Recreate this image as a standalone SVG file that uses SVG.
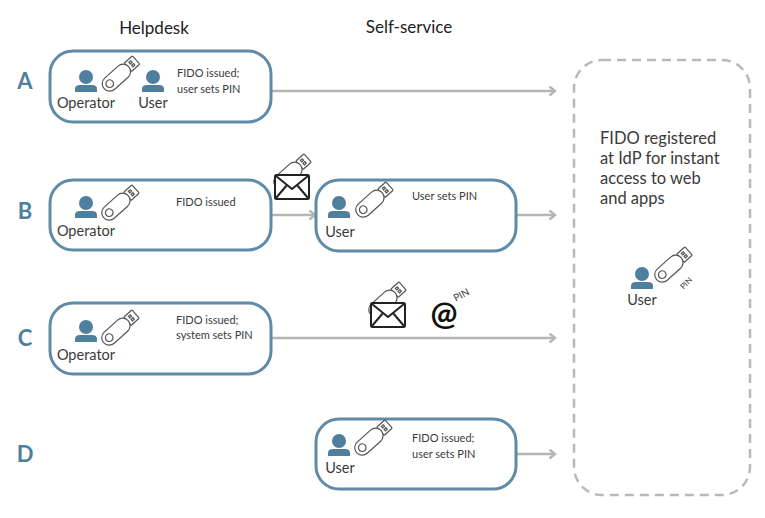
<svg xmlns="http://www.w3.org/2000/svg" width="765" height="518" viewBox="0 0 765 518">
  <style>
    text { font-family: "Lato", "Liberation Sans", sans-serif; fill: #3a3a3a; }
    .box { fill: #fff; stroke: #5f8aa8; stroke-width: 3; }
    .store { fill: #fff; stroke: #b9b9b9; stroke-width: 2.5; stroke-dasharray: 9 6; }
    .link { fill: none; stroke: #b5b5b5; stroke-width: 2.5; marker-end: url(#head); }
    .head { font-size: 17px; fill: #222; }
    .row { font-size: 22px; font-weight: 700; fill: #4f7f9f; }
    .who { font-size: 14.5px; }
    .note { font-size: 11px; }
    .big { font-size: 16.5px; }
    .usb rect, .usb circle { fill: #fff; stroke: #555; stroke-width: 1.2; }
    .env { fill: #fff; stroke: #222; stroke-width: 2; stroke-linejoin: round; }
  </style>
  <defs>
    <marker id="head" markerWidth="10" markerHeight="12" refX="7.500" refY="5" orient="auto" markerUnits="userSpaceOnUse">
      <path d="M2 0.5 L7.500 5 L2 9.500" fill="none" stroke="#b5b5b5" stroke-width="2.4"/>
    </marker>
    <g id="person">
      <circle cx="0" cy="-7" r="7" fill="#4f7f9f"/>
      <path d="M-11 8 V5 Q-11 1 -6 1 H6 Q11 1 11 5 V8 Z" fill="#4f7f9f"/>
    </g>
    <g id="usb" class="usb">
      <rect x="10" y="-5.500" width="11" height="11" rx="1"/>
      <rect x="-22" y="-7.500" width="33" height="15" rx="7.500"/>
      <circle cx="-14.500" cy="0" r="3.800"/>
      <rect x="14" y="-3" width="2.500" height="2" stroke-width="0.8"/>
      <rect x="14" y="1" width="2.500" height="2" stroke-width="0.8"/>
    </g>
    <g id="envelope">
      <rect class="env" x="0" y="0" width="34" height="24" rx="1.500"/>
      <path class="env" fill="none" d="M1 1 L17 14 L33 1 M1 23 L12 10 M33 23 L22 10"/>
    </g>
  </defs>

  <text class="head" x="154" y="34" text-anchor="middle">Helpdesk</text>
  <text class="head" x="409" y="33" text-anchor="middle">Self-service</text>

  <text class="row" x="25" y="89" text-anchor="middle">A</text>
  <text class="row" x="25" y="219" text-anchor="middle">B</text>
  <text class="row" x="25" y="346" text-anchor="middle">C</text>
  <text class="row" x="25" y="462" text-anchor="middle">D</text>

  <g id="connectors">
    <path class="link" d="M271 91 H555"/>
    <path class="link" d="M271 215 H315"/>
    <path class="link" d="M516 215 H555"/>
    <path class="link" d="M271 338 H555"/>
    <path class="link" d="M516 454 H555"/>
  </g>

  <g id="node-a">
    <rect class="box" x="50" y="51" width="221" height="71" rx="23"/>
    <use href="#person" x="86" y="84"/>
    <use href="#usb" transform="translate(120.500 74) rotate(-42)"/>
    <use href="#person" x="153" y="84"/>
    <text class="who" x="86" y="108" text-anchor="middle">Operator</text>
    <text class="who" x="153" y="108" text-anchor="middle">User</text>
    <text class="note" x="177" y="77">FIDO issued;</text>
    <text class="note" x="177" y="93">user sets PIN</text>
  </g>

  <g id="node-b-helpdesk">
    <rect class="box" x="50" y="180" width="221" height="70" rx="23"/>
    <use href="#person" x="86" y="210"/>
    <use href="#usb" transform="translate(120 203) rotate(-42)"/>
    <text class="who" x="86" y="236" text-anchor="middle">Operator</text>
    <text class="note" x="176" y="206">FIDO issued</text>
  </g>

  <g id="mail-b">
    <use href="#usb" transform="translate(292 172) rotate(-42)"/>
    <use href="#envelope" x="275" y="175"/>
  </g>

  <g id="node-b-self">
    <rect class="box" x="316" y="180" width="200" height="71" rx="23"/>
    <use href="#person" x="339" y="210"/>
    <use href="#usb" transform="translate(374 200) rotate(-42)"/>
    <text class="who" x="340" y="237" text-anchor="middle">User</text>
    <text class="note" x="412" y="200">User sets PIN</text>
  </g>

  <g id="node-c">
    <rect class="box" x="50" y="303" width="221" height="71" rx="23"/>
    <use href="#person" x="86" y="334"/>
    <use href="#usb" transform="translate(120 328) rotate(-42)"/>
    <text class="who" x="86" y="360" text-anchor="middle">Operator</text>
    <text class="note" x="176" y="324">FIDO issued;</text>
    <text class="note" x="176" y="339">system sets PIN</text>
  </g>

  <g id="mail-c">
    <use href="#usb" transform="translate(387 300) rotate(-42)"/>
    <use href="#envelope" x="371" y="303"/>
    <text x="444" y="325" text-anchor="middle" font-size="32" font-weight="700" style="fill:#111">@</text>
    <text x="463" y="298" text-anchor="middle" font-size="10" transform="rotate(-28 463 298)">PIN</text>
  </g>

  <g id="node-d">
    <rect class="box" x="316" y="419" width="200" height="70" rx="23"/>
    <use href="#person" x="339" y="448"/>
    <use href="#usb" transform="translate(373 438) rotate(-42)"/>
    <text class="who" x="340" y="473" text-anchor="middle">User</text>
    <text class="note" x="412" y="442">FIDO issued;</text>
    <text class="note" x="412" y="458">user sets PIN</text>
  </g>

  <g id="idp">
    <rect class="store" x="574" y="60" width="176" height="435" rx="28"/>
    <text class="big" x="600" y="144">FIDO registered</text>
    <text class="big" x="600" y="164">at IdP for instant</text>
    <text class="big" x="600" y="184">access to web</text>
    <text class="big" x="600" y="204">and apps</text>
    <use href="#person" x="642" y="281"/>
    <use href="#usb" transform="translate(673 265) rotate(-42)"/>
    <text x="686" y="286" text-anchor="middle" font-size="8" transform="rotate(-45 686 283)">PIN</text>
    <text class="who" x="642" y="305" text-anchor="middle">User</text>
  </g>
</svg>
